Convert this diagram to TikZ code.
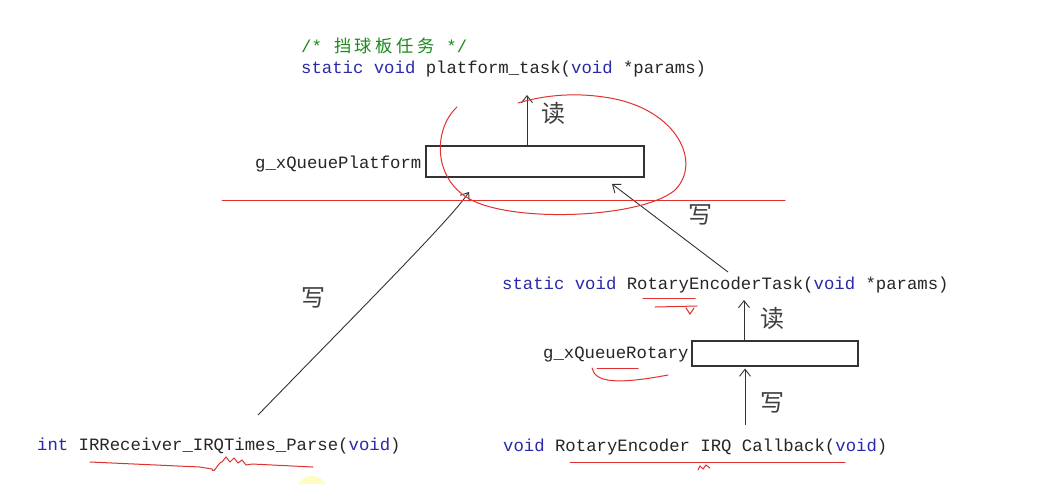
\documentclass[tikz,border=0pt]{standalone}
\usepackage{fontspec}
\setmonofont{Liberation Mono}
\newfontfamily\cjk{Noto Sans CJK SC}
\usetikzlibrary{arrows.meta}
\definecolor{kw}{HTML}{2A2AA8}
\definecolor{cm}{HTML}{1A8A1A}
\definecolor{pen}{HTML}{E03030}
\newcommand\wch[1]{\makebox[20.75pt]{\cjk #1}}
\tikzset{
  code/.style={inner sep=0pt, anchor=base west, font=\fontsize{17.3}{18}\selectfont\ttfamily, text=black!85},
  qbox/.style={draw=black!80, line width=1.1pt, inner sep=0pt},
  hand/.style={font=\fontsize{24}{24}\selectfont\cjk, text=black!75, inner sep=0pt},
  flow/.style={draw=black!80, line width=0.9pt, -{Straight Barb[length=7pt,width=11pt,line width=0.9pt]}},
  ink/.style={draw=pen, line width=1pt, line cap=round},
}
\begin{document}
\begin{tikzpicture}[x=1pt,y=-1pt]
\useasboundingbox[fill=white] (0,0) rectangle (1054,483);
% cursor highlight
\begin{scope}
\clip (0,0) rectangle (1054,483);
\fill[yellow!25] (312,492) circle (16);
\end{scope}
% texts
\node[code] (cmt) at (301,52) {\textcolor{cm}{/* \wch{挡}\wch{球}\wch{板}\wch{任}\wch{务} */}};
\node[code] (ptask) at (301,73) {\textcolor{kw}{static void} platform\_task(\textcolor{kw}{void} *params)};
\node[code] (qpl) at (255,168) {g\_xQueuePlatform};
\node[code] (rtask) at (502,289) {\textcolor{kw}{static void} RotaryEncoderTask(\textcolor{kw}{void} *params)};
\node[code] (qrot) at (543,358) {g\_xQueueRotary};
\node[code] (irr) at (37,450) {\textcolor{kw}{int} IRReceiver\_IRQTimes\_Parse(\textcolor{kw}{void})};
\node[code] (rcb) at (503,451) {\textcolor{kw}{void} RotaryEncoder IRQ Callback(\textcolor{kw}{void})};
% queue boxes
\node[qbox, minimum width=218pt, minimum height=31pt] (boxp) at (535,161.5) {};
\node[qbox, minimum width=166pt, minimum height=25pt] (boxr) at (775,353.5) {};
% arrow anchors
\coordinate (pread) at (527,95);
\coordinate (rread) at (744,300);
\coordinate (cbtop) at (745,425);
\coordinate (irtop) at (258,415);
\coordinate (rttop) at (728,272);
\coordinate (pinl) at (469,192);
\coordinate (pinr) at (612,184);
% arrows
\draw[flow] (boxp.north -| pread) -- (pread);
\draw[flow] (boxr.north -| rread) -- (rread);
\draw[flow, shorten >=2pt] (cbtop) -- (boxr.south -| cbtop);
\draw[flow] (irtop) .. controls (360,310) and (450,220) .. (pinl);
\draw[flow] (rttop) -- (pinr);
% handwritten labels
\node[hand] (l1) at (553,113) {读};
\node[hand] (l2) at (772,318) {读};
\node[hand] (l3) at (772,403) {写};
\node[hand] (l4) at (313,298) {写};
\node[hand] (l5) at (700,215) {写};
% red annotations
\draw[ink] (222,200) -- (785,200);
\draw[ink] (457,107) .. controls (432,130) and (432,185) .. (478,203)
  .. controls (530,223) and (645,216) .. (675,190)
  .. controls (702,163) and (678,110) .. (610,98)
  .. controls (570,91) and (538,97) .. (518,103);
\draw[ink] (90,462) -- (200,467) -- (212,469) .. controls (214,475) and (218,462) .. (222,462)
  -- (226,457) -- (230,462) -- (234,458) -- (238,463) -- (242,460) -- (246,465) -- (252,464) -- (313,467);
\draw[ink] (570,462) -- (845,462);
\draw[ink] (698,470) -- (700,466) -- (703,469) -- (706,465) -- (710,468);
\draw[ink] (643,298) -- (695,298);
\draw[ink] (655,307) -- (697,306);
\draw[ink] (686,308) -- (690,314) -- (694,308);
\draw[ink] (597,368) -- (638,368);
\draw[ink] (592,368) .. controls (595,382) and (615,385) .. (668,375);
\end{tikzpicture}
\end{document}
